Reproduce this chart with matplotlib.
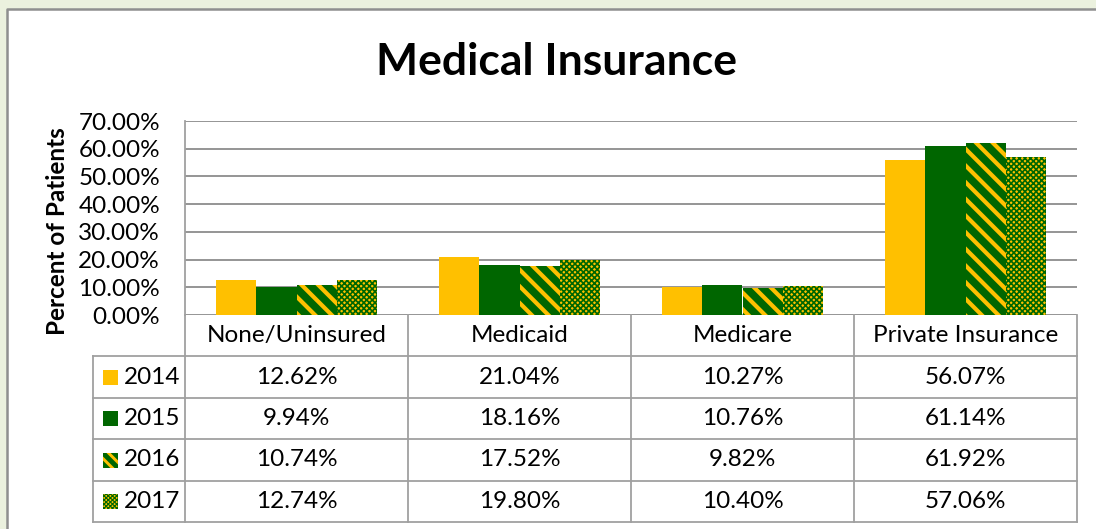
import matplotlib
matplotlib.use("Agg")
import matplotlib.pyplot as plt
from matplotlib.patches import Rectangle
from matplotlib.lines import Line2D
from matplotlib.transforms import blended_transform_factory
from matplotlib.ticker import FuncFormatter
import numpy as np

categories = ["None/Uninsured", "Medicaid", "Medicare", "Private Insurance"]
years = ["2014", "2015", "2016", "2017"]
share_2014 = [12.62, 21.04, 10.27, 56.07]
share_2015 = [9.94, 18.16, 10.76, 61.14]
share_2016 = [10.74, 17.52, 9.82, 61.92]
share_2017 = [12.74, 19.80, 10.40, 57.06]
yticks = [0, 10, 20, 30, 40, 50, 60, 70]

YELLOW = "#FFC000"
GREEN = "#006600"
GRID = "#8C8C8C"
BORDER = "#A0A0A0"
FS = 17.5

# (facecolor, hatch colour, hatch, hatch linewidth)
styles = [
    (YELLOW, YELLOW, None, 1.0),
    (GREEN, GREEN, None, 1.0),
    (GREEN, YELLOW, "\\\\", 3.0),
    (YELLOW, GREEN, "xxxxxx", 1.2),
]

plt.rcParams["font.family"] = ["Lato", "DejaVu Sans"]

W, H = 1096, 529
fig = plt.figure(figsize=(W / 100, H / 100), dpi=100)
fig.patch.set_facecolor("#EBF1DE")
# white chart panel, only its top and left edges are visible
fig.patches.append(Rectangle((7 / W, 0), 1 - 7 / W, 1 - 9 / H, transform=fig.transFigure,
                             facecolor="white", linewidth=0, zorder=-5))
fig.lines.append(Line2D([7 / W, 7 / W, 1], [0, 1 - 9 / H, 1 - 9 / H],
                        transform=fig.transFigure, color="#8F8F8F", linewidth=1.8,
                        zorder=-4))

ax = fig.add_axes([185 / W, 1 - 315 / H, (1077 - 185) / W, (315 - 121) / H])
ax.set_facecolor("none")

series = [share_2014, share_2015, share_2016, share_2017]
x = np.arange(len(categories))
width = 0.18
for i, (vals, (fc, hc, hatch, hlw)) in enumerate(zip(series, styles)):
    with plt.rc_context({"hatch.linewidth": hlw}):
        ax.bar(x + (i - 1.5) * width, np.array(vals) / 100, width, facecolor=fc,
               edgecolor=hc, linewidth=0, hatch=hatch, zorder=3)

ax.set_xlim(-0.5, len(categories) - 0.5)
ax.set_ylim(0, 0.7)
ax.set_yticks(np.array(yticks) / 100)
ax.yaxis.set_major_formatter(FuncFormatter(lambda v, p: f"{v * 100:.2f}%"))
ax.tick_params(axis="y", length=0, labelsize=FS, pad=18)
ax.set_xticks([])
ax.grid(axis="y", color=GRID, linewidth=1.3, zorder=0)
for s in ["top", "right", "bottom"]:
    ax.spines[s].set_visible(False)
ax.spines["left"].set_color(BORDER)
ax.spines["left"].set_linewidth(1.3)

ax.set_ylabel("Percent of Patients", fontsize=17.5, fontweight="bold")
ax.yaxis.set_label_coords(-116 / (1077 - 185), 0.43)

fig.text(557 / W, 1 - 62 / H, "Medical Insurance", fontsize=32, fontweight="bold",
         ha="center", va="center")

# data table under the plot
tr = blended_transform_factory(ax.transData, fig.transFigure)
row_edges = [315, 356, 398, 439, 481, 522]
label_left = -0.5 - (185 - 93) / (1077 - 185) * len(categories)


def fy(py):
    return 1 - py / H


for edge in x - 0.5:
    ax.plot([edge, edge], [fy(row_edges[0]), fy(row_edges[-1])], color=BORDER, lw=1.3,
            transform=tr, clip_on=False)
ax.plot([x[-1] + 0.5] * 2, [fy(row_edges[0]), fy(row_edges[-1])], color=BORDER, lw=1.3,
        transform=tr, clip_on=False)
ax.plot([label_left] * 2, [fy(row_edges[1]), fy(row_edges[-1])], color=BORDER, lw=1.3,
        transform=tr, clip_on=False)
for py in row_edges[1:]:
    ax.plot([label_left, x[-1] + 0.5], [fy(py), fy(py)], color=BORDER, lw=1.3,
            transform=tr, clip_on=False)

for j, cat in enumerate(categories):
    ax.text(j, fy((row_edges[0] + row_edges[1]) / 2), cat, transform=tr,
            ha="center", va="center", fontsize=FS)

sw = 15 / (1077 - 185) * len(categories)
swatch_hatch = [None, None, "\\\\\\", "xxxxxxxx"]
for i, (year, vals, (fc, hc, hatch, hlw)) in enumerate(zip(years, series, styles)):
    yc = fy((row_edges[i + 1] + row_edges[i + 2]) / 2)
    for j, v in enumerate(vals):
        ax.text(j, yc, f"{v:.2f}%", transform=tr, ha="center", va="center", fontsize=FS)
    with plt.rc_context({"hatch.linewidth": hlw * 0.7}):
        sq = Rectangle((label_left + 10 / 223, yc - 7.5 / H), sw, 15 / H, transform=tr,
                       facecolor=fc, edgecolor=hc, linewidth=0, hatch=swatch_hatch[i],
                       clip_on=False)
        ax.add_patch(sq)
    ax.text(label_left + 31 / 223, yc, year, transform=tr, ha="left", va="center",
            fontsize=FS)

fig.savefig("out.png", dpi=100, facecolor=fig.get_facecolor())
